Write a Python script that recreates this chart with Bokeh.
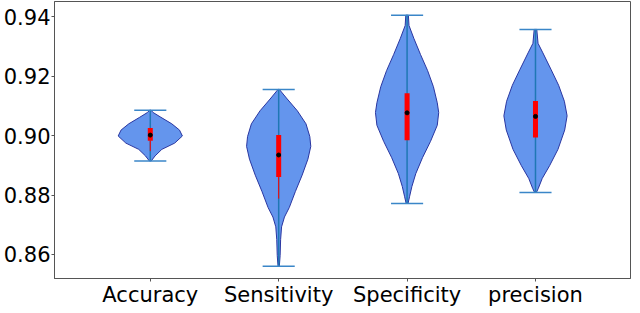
from bokeh.plotting import figure
from bokeh.models import FixedTicker, Range1d
from bokeh.embed import file_html
from bokeh.resources import INLINE

# ---- data ----
categories = ["Accuracy", "Sensitivity", "Specificity", "precision"]
positions = [1, 2, 3, 4]
mins = [0.8915, 0.8560, 0.8772, 0.8809]
maxs = [0.9086, 0.9156, 0.9406, 0.9358]
medians = [0.9002, 0.8935, 0.9077, 0.9065]
q1 = [0.8983, 0.8861, 0.8985, 0.8994]
q3 = [0.9026, 0.9002, 0.9143, 0.9117]
whisker_lo = [0.8948, 0.8788, 0.8985, 0.8994]

# density profiles (value, relative half-width)
acc_y = [0.9086, 0.9078, 0.9062, 0.9040, 0.9019, 0.8999, 0.8975, 0.8954, 0.8932, 0.8915]
acc_w = [0.02, 0.09, 0.33, 0.67, 0.91, 1.00, 0.76, 0.36, 0.15, 0.03]
sen_y = [0.9156, 0.9127, 0.9084, 0.9040, 0.8997, 0.8964, 0.8921, 0.8867, 0.8812,
         0.8758, 0.8726, 0.8693, 0.8650, 0.8596, 0.8560]
sen_w = [0.02, 0.24, 0.58, 0.85, 0.97, 1.00, 0.91, 0.73, 0.52, 0.33, 0.18, 0.09, 0.06, 0.045, 0.02]
spe_y = [0.9406, 0.9371, 0.9328, 0.9273, 0.9219, 0.9165, 0.9111, 0.9078, 0.9035,
         0.8981, 0.8926, 0.8872, 0.8829, 0.8796, 0.8772]
spe_w = [0.04, 0.06, 0.21, 0.42, 0.64, 0.82, 0.94, 0.985, 0.94, 0.73, 0.48, 0.27, 0.15, 0.08, 0.03]
pre_y = [0.9358, 0.9311, 0.9279, 0.9224, 0.9170, 0.9116, 0.9067, 0.9019, 0.8954,
         0.8899, 0.8856, 0.8823, 0.8809]
pre_w = [0.04, 0.08, 0.23, 0.48, 0.72, 0.90, 0.985, 0.91, 0.70, 0.44, 0.21, 0.09, 0.03]

profiles_y = [acc_y, sen_y, spe_y, pre_y]
profiles_w = [acc_w, sen_w, spe_w, pre_w]

y_ticks = [0.86, 0.88, 0.90, 0.92, 0.94]
y_tick_labels = ["0.86", "0.88", "0.90", "0.92", "0.94"]

FONT = "DejaVu Sans"
half = 0.25  # half of violin width (widths=0.5)

p = figure(width=632, height=309, output_backend="svg", toolbar_location=None,
           x_range=Range1d(0.254, 4.74), y_range=Range1d(0.8519, 0.9452),
           min_border_left=0, min_border_right=2, min_border_top=1, min_border_bottom=0)
p.background_fill_color = "white"
p.border_fill_color = "white"
p.outline_line_color = "#555555"
p.outline_line_width = 1
p.xgrid.visible = False
p.ygrid.visible = False

xs, ys = [], []
for pos, py, pw in zip(positions, profiles_y, profiles_w):
    right = [pos + half * w for w in pw]
    left = [pos - half * w for w in reversed(pw)]
    xs.append(right + left)
    ys.append(list(py) + list(reversed(py)))
p.patches(xs, ys, fill_color="#6495ED", fill_alpha=1.0, line_color="#2a36a0", line_width=1)

# center bars
p.segment(x0=positions, y0=mins, x1=positions, y1=maxs, line_color="#1f77b4", line_width=1.5)
# caps
cap = 0.125
p.segment(x0=[x - cap for x in positions], y0=mins, x1=[x + cap for x in positions], y1=mins,
          line_color="#3a86c8", line_width=1.5)
p.segment(x0=[x - cap for x in positions], y0=maxs, x1=[x + cap for x in positions], y1=maxs,
          line_color="#3a86c8", line_width=1.5)
# whiskers and quartile boxes
p.segment(x0=positions, y0=whisker_lo, x1=positions, y1=q1, line_color="red", line_width=1)
p.segment(x0=positions, y0=q1, x1=positions, y1=q3, line_color="red", line_width=5)
# medians
p.scatter(positions, medians, size=4, fill_color="black", line_color="black")

for ax in (p.xaxis[0], p.yaxis[0]):
    ax.axis_line_color = "#555555"
    ax.major_tick_line_color = "#555555"
    ax.major_tick_out = 3
    ax.major_tick_in = 0
    ax.minor_tick_line_color = None
    ax.major_label_text_font = FONT
    ax.major_label_text_font_size = "21px"
    ax.major_label_text_color = "black"
    ax.major_label_standoff = 1

p.xaxis.ticker = FixedTicker(ticks=positions)
p.xaxis.major_label_overrides = {pos: c for pos, c in zip(positions, categories)}
p.yaxis.ticker = FixedTicker(ticks=y_ticks)
p.yaxis.major_label_overrides = {t: l for t, l in zip(y_ticks, y_tick_labels)}

open("out.html", "w").write(file_html(p, INLINE))
